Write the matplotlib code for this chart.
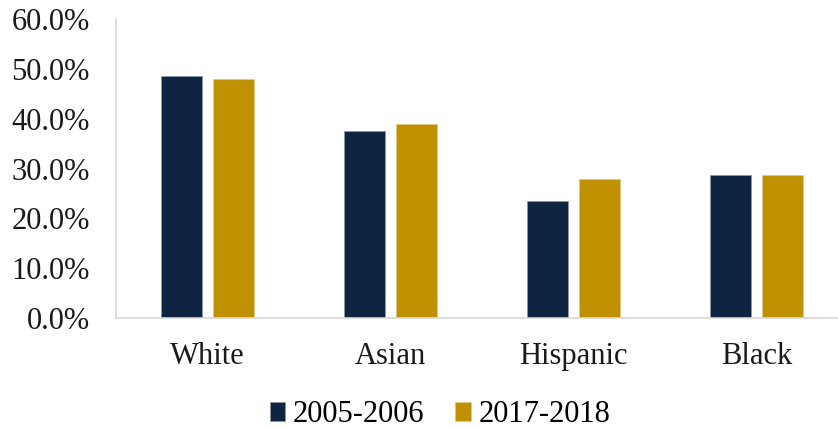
import matplotlib
matplotlib.use("Agg")
import matplotlib.pyplot as plt
import numpy as np
from matplotlib.ticker import FuncFormatter

categories = ["White", "Asian", "Hispanic", "Black"]
series_names = ["2005-2006", "2017-2018"]
values_2005 = [48.6, 37.5, 23.5, 28.6]
values_2017 = [47.9, 39.0, 27.8, 28.7]
colors = ["#0F2441", "#BF9000"]

plt.rcParams["font.family"] = ["Liberation Serif", "DejaVu Serif"]

W, H = 838, 430
fig = plt.figure(figsize=(W / 100, H / 100), dpi=100)
left, right, bottom, top = 116, 838, 318, 19
ax = fig.add_axes([left / W, 1 - bottom / H, (right - left) / W, (bottom - top) / H])

x = np.arange(len(categories))
bw = 0.224
off = 0.142
ax.bar(x - off, values_2005, bw, color=colors[0], edgecolor="#8A96A8", linewidth=0.6,
       label=series_names[0])
ax.bar(x + off, values_2017, bw, color=colors[1], edgecolor="#E0CB80", linewidth=0.6,
       label=series_names[1])

ax.set_xlim(-0.5, -0.5 + (right - left) / 183)
ax.set_ylim(0, 60)
ax.set_yticks(np.arange(0, 61, 10))
ax.yaxis.set_major_formatter(FuncFormatter(lambda v, p: f"{v:.1f}%"))
ax.set_xticks(x)
ax.set_xticklabels(categories)

for s in ["top", "right"]:
    ax.spines[s].set_visible(False)
for s in ["left", "bottom"]:
    ax.spines[s].set_color("#D9D9D9")
    ax.spines[s].set_linewidth(1.2)

ax.tick_params(axis="y", length=0, pad=19, labelsize=22, colors="#1a1a1a")
ax.tick_params(axis="x", length=0, pad=17, labelsize=22, colors="#1a1a1a")

fig.legend(loc="center", bbox_to_anchor=(440 / W, 1 - 415 / H), ncol=2, frameon=False,
           fontsize=22, handlelength=0.52, handleheight=0.56, handletextpad=0.25,
           columnspacing=1.0, borderpad=0, borderaxespad=0)

fig.savefig("out.png", dpi=100)
